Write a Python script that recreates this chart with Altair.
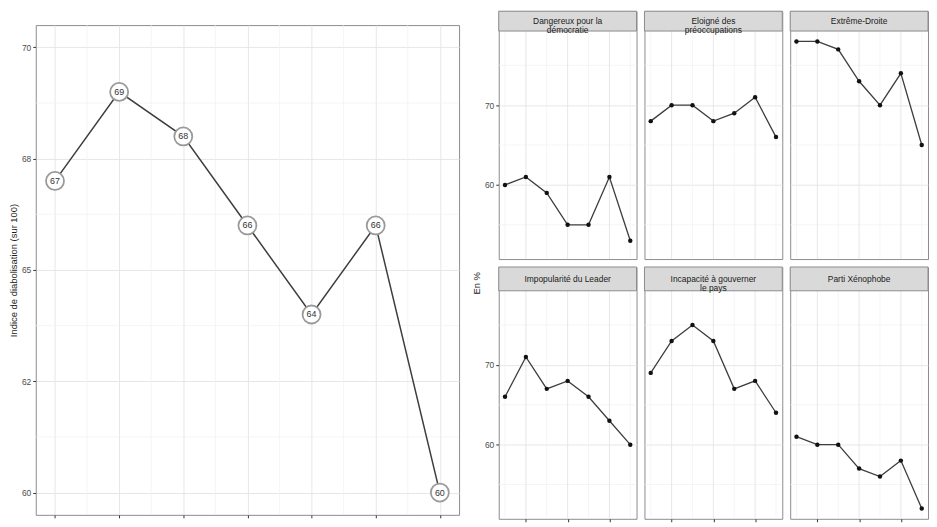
import altair as alt
import pandas as pd

# ---------------- data ----------------
waves = [1, 2, 3, 4, 5, 6, 7]
indice = [67, 69, 68, 66, 64, 66, 60]

categories = [
    "Dangereux pour la démocratie",
    "Eloigné des préoccupations",
    "Extrême-Droite",
    "Impopularité du Leader",
    "Incapacité à gouverner le pays",
    "Parti Xénophobe",
]
strip_labels = [
    "Dangereux pour la\ndémocratie",
    "Eloigné des\npréoccupations",
    "Extrême-Droite",
    "Impopularité du Leader",
    "Incapacité à gouverner\nle pays",
    "Parti Xénophobe",
]
dangereux = [60, 61, 59, 55, 55, 61, 53]
eloigne = [68, 70, 70, 68, 69, 71, 66]
extreme_droite = [78, 78, 77, 73, 70, 74, 65]
impopularite = [66, 71, 67, 68, 66, 63, 60]
incapacite = [69, 73, 75, 73, 67, 68, 64]
xenophobe = [61, 60, 60, 57, 56, 58, 52]
series = [dangereux, eloigne, extreme_droite, impopularite, incapacite, xenophobe]

left_y_ticks = [60, 62.5, 65, 67.5, 70]
left_y_labels = ["60", "62", "65", "68", "70"]
left_y_minor = [61.25, 63.75, 66.25, 68.75]
left_x_minor = [1.5, 2.5, 3.5, 4.5, 5.5, 6.5]

facet_y_ticks = [60, 70]
facet_y_minor = [55, 65, 75]
facet_x_ticks = [2, 4, 6]
facet_x_minor = [1, 3, 5, 7]

# ---------------- styles ----------------
FONT = "Liberation Sans"
GRID = "#e4e4e4"
GRID_MINOR = "#f0f0f0"
BORDER = "#8c8c8c"
STRIP_FILL = "#d9d9d9"
LINE = "#3d3d3d"

# ---------------- left chart ----------------
left_df = pd.DataFrame({"vague": waves, "indice": indice})
lx = alt.Scale(domain=[0.7, 7.3], nice=False, zero=False)
ly = alt.Scale(domain=[59.5, 70.5], nice=False, zero=False)

label_expr = " : ".join(
    f"datum.value == {v} ? '{l}'" for v, l in zip(left_y_ticks, left_y_labels)
) + " : ''"

LW, LH = 427, 494

lxaxis = alt.Axis(values=waves, labels=False, title=None, grid=True)
lyaxis = alt.Axis(values=left_y_ticks, labelExpr=label_expr, grid=True,
                  title="Indice de diabolisation (sur 100)",
                  titlePadding=3, labelPadding=2)

left_hminor = alt.Chart(pd.DataFrame({"y": left_y_minor})).mark_rule(
    color=GRID_MINOR, strokeWidth=0.7
).encode(y=alt.Y("y:Q", scale=ly, axis=lyaxis))
left_vminor = alt.Chart(pd.DataFrame({"x": left_x_minor})).mark_rule(
    color=GRID_MINOR, strokeWidth=0.7
).encode(x=alt.X("x:Q", scale=lx, axis=lxaxis))

left_base = alt.Chart(left_df).encode(
    x=alt.X("vague:Q", scale=lx, axis=lxaxis),
    y=alt.Y("indice:Q", scale=ly, axis=lyaxis),
)
left_line = left_base.mark_line(color=LINE, strokeWidth=1.5)
left_pts = left_base.mark_point(shape="circle", filled=True, fill="white",
                                stroke="#9a9a9a", strokeWidth=1.8, size=330, opacity=1)
left_txt = left_base.mark_text(fontSize=9, color="#333333", font=FONT).encode(
    text=alt.Text("indice:Q"))

left_chart = alt.layer(left_hminor, left_vminor, left_line, left_pts, left_txt).properties(
    width=LW, height=LH, view=alt.ViewBackground(stroke=BORDER, strokeWidth=1)
)

spacer = alt.Chart(pd.DataFrame({"v": [0]})).mark_rule(opacity=0).encode(
    x=alt.value(0), x2=alt.value(1), y=alt.value(0), y2=alt.value(1)
).properties(width=10, height=12, view=alt.ViewBackground(stroke="transparent"))

left_block = alt.vconcat(spacer, left_chart, spacing=0)

# ---------------- facet panels ----------------
PW, PH = 139, 230
fx = alt.Scale(domain=[0.7, 7.3], nice=False, zero=False)


def panel(idx, row, col):
    strip_h = 20 if row == 0 else 24
    H = strip_h + PH
    fy = alt.Scale(domain=[50.7, 79.3], range=[H, strip_h], nice=False, zero=False)
    df = pd.DataFrame({"vague": waves, "pct": series[idx], "cat": categories[idx]})

    if col == 0:
        yaxis = alt.Axis(values=facet_y_ticks, grid=True, title="En %",
                         titleColor=("#1a1a1a" if row == 1 else "transparent"),
                         titleY=16, titlePadding=3, labelPadding=2)
    else:
        yaxis = alt.Axis(values=facet_y_ticks, grid=True, labels=False, ticks=False,
                         title=None)
    xaxis = alt.Axis(values=facet_x_ticks, grid=False, labels=False,
                     ticks=(row == 1), title=None)

    hminor = alt.Chart(pd.DataFrame({"y": facet_y_minor})).mark_rule(
        color=GRID_MINOR, strokeWidth=0.7
    ).encode(y=alt.Y("y:Q", scale=fy, axis=yaxis))
    vminor = alt.Chart(pd.DataFrame({"x": facet_x_minor})).mark_rule(
        color=GRID_MINOR, strokeWidth=0.7
    ).encode(x=alt.X("x:Q", scale=fx, axis=xaxis))
    vmajor = alt.Chart(pd.DataFrame({"x": facet_x_ticks})).mark_rule(
        color=GRID, strokeWidth=0.9
    ).encode(x=alt.X("x:Q", scale=fx, axis=xaxis))

    base = alt.Chart(df).encode(
        x=alt.X("vague:Q", scale=fx, axis=xaxis),
        y=alt.Y("pct:Q", scale=fy, axis=yaxis),
    )
    line = base.mark_line(color=LINE, strokeWidth=1.3)
    pts = base.mark_circle(color="#111111", size=20, opacity=1)

    sdf = pd.DataFrame({"label": [strip_labels[idx]]})
    strip = alt.Chart(sdf).mark_rect(fill=STRIP_FILL, stroke=BORDER, strokeWidth=1).encode(
        x=alt.value(0), x2=alt.value(PW), y=alt.value(0), y2=alt.value(strip_h))
    stext = alt.Chart(sdf).mark_text(lineBreak="\n", fontSize=8.5, color="#1a1a1a",
                                     font=FONT, align="center", baseline="middle",
                                     lineHeight=9).encode(
        text="label:N", x=alt.value(PW / 2), y=alt.value(strip_h / 2))

    return alt.layer(hminor, vminor, vmajor, line, pts, strip, stext).properties(
        width=PW, height=H, view=alt.ViewBackground(stroke=BORDER, strokeWidth=1)
    )


row1 = alt.hconcat(*[panel(i, 0, i) for i in range(3)], spacing=6)
row2 = alt.hconcat(*[panel(i + 3, 1, i) for i in range(3)], spacing=6)
right_block = alt.vconcat(row1, row2, spacing=6)

chart = alt.hconcat(left_block, right_block, spacing=11).properties(
    padding={"left": 0, "top": 0, "right": 0, "bottom": 0}
).configure_axis(
    labelFont=FONT, labelFontSize=8.5, labelColor="#4d4d4d",
    tickColor="#333333", tickSize=3, domain=False,
    gridColor=GRID, gridWidth=0.9,
    titleFont=FONT, titleFontSize=9.5, titleFontWeight="normal", titleColor="#1a1a1a",
).configure_view(stroke=BORDER)

chart.save("out.html", embed_options={"renderer": "svg", "actions": False})
